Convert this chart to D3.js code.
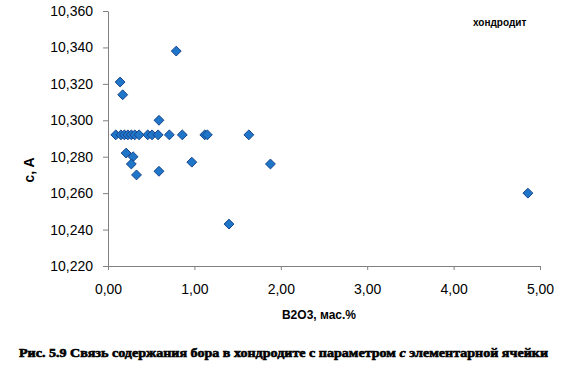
<!DOCTYPE html>
<html>
<head>
<meta charset="utf-8">
<script src="https://cdn.jsdelivr.net/npm/d3@7"></script>
<style>
  body { margin: 0; background: #fff; }
  svg { display: block; }
  .tick text { font-family: "Liberation Sans", Arial, sans-serif; font-size: 14px; fill: #000; }
</style>
</head>
<body>
<div id="chart"></div>
<script>
// B2O3, mas.% vs parameter c (A) for chondrodite
var b2o3 = [0.09, 0.15, 0.19, 0.23, 0.27, 0.31, 0.36, 0.46, 0.51, 0.58, 0.71, 0.86, 1.12, 1.15, 1.63,
            0.14, 0.17, 0.79, 0.59, 0.21, 0.29, 0.27, 0.33, 0.59, 0.97, 1.40, 1.88, 4.86];
var cParam = [10.292, 10.292, 10.292, 10.292, 10.292, 10.292, 10.292, 10.292, 10.292, 10.292, 10.292, 10.292, 10.292, 10.292, 10.292,
              10.321, 10.314, 10.338, 10.300, 10.282, 10.280, 10.276, 10.270, 10.272, 10.277, 10.243, 10.276, 10.260];

var xTicks = [0, 1, 2, 3, 4, 5];
var yTicks = [10.22, 10.24, 10.26, 10.28, 10.30, 10.32, 10.34, 10.36];

var width = 570, height = 381;
var margin = {top: 11, right: 30, bottom: 115, left: 108};

var svg = d3.select("#chart").append("svg")
    .attr("width", width)
    .attr("height", height);

var x = d3.scaleLinear().domain([0, 5]).range([margin.left, width - margin.right]);
var y = d3.scaleLinear().domain([10.22, 10.36]).range([height - margin.bottom, margin.top]);

var fmt = function(d) { return d3.format(".2f")(d).replace(".", ","); };
var fmtY = function(d) { return d3.format(".3f")(d).replace(".", ","); };

svg.append("g")
    .attr("transform", "translate(0," + y(10.22) + ")")
    .call(d3.axisBottom(x).tickValues(xTicks).tickFormat(fmt).tickSize(4).tickSizeOuter(0).tickPadding(14));

svg.append("g")
    .attr("transform", "translate(" + x(0) + ",0)")
    .call(d3.axisLeft(y).tickValues(yTicks).tickFormat(fmtY).tickSize(5).tickSizeOuter(0).tickPadding(10));

svg.selectAll(".domain").attr("stroke", "#808080");
svg.selectAll(".tick line").attr("stroke", "#808080");

var diamond = d3.symbol().type(d3.symbolDiamond2).size(62);

svg.append("g")
  .selectAll("path")
  .data(b2o3)
  .enter().append("path")
    .attr("d", diamond)
    .attr("transform", function(d, i) { return "translate(" + x(d) + "," + y(cParam[i]) + ")"; })
    .attr("fill", "#1f76c9")
    .attr("stroke", "#17448c")
    .attr("stroke-width", 1);

// legend-like label
svg.append("text")
    .attr("x", 473)
    .attr("y", 26)
    .style("font-family", "Liberation Sans, Arial, sans-serif")
    .style("font-size", "10px")
    .style("font-weight", "bold")
    .text("хондродит");

// axis titles
svg.append("text")
    .attr("x", 319)
    .attr("y", 319)
    .attr("text-anchor", "middle")
    .style("font-family", "Liberation Sans, Arial, sans-serif")
    .style("font-size", "12px")
    .style("font-weight", "bold")
    .text("B2O3, мас.%");

svg.append("text")
    .attr("transform", "translate(34,170) rotate(-90)")
    .attr("text-anchor", "middle")
    .style("font-family", "Liberation Sans, Arial, sans-serif")
    .style("font-size", "14px")
    .style("font-weight", "bold")
    .text("c, A");

// caption
var cap = svg.append("text")
    .attr("x", 19)
    .attr("y", 357)
    .attr("textLength", 529)
    .attr("lengthAdjust", "spacingAndGlyphs")
    .style("font-family", "Liberation Serif, serif")
    .style("font-size", "13px")
    .style("font-weight", "bold")
    .style("stroke", "#000")
    .style("stroke-width", 0.6);
cap.append("tspan").text("Рис. 5.9 Связь содержания бора в хондродите  с параметром  ");
cap.append("tspan").style("font-style", "italic").text("с");
cap.append("tspan").text(" элементарной  ячейки");
</script>
</body>
</html>
